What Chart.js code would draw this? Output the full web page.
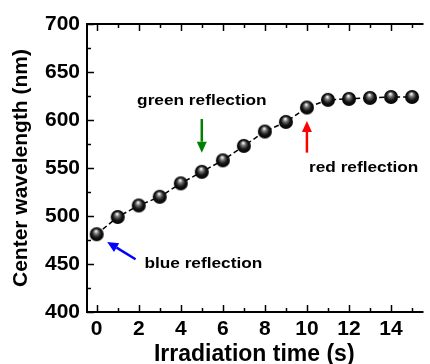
<!DOCTYPE html>
<html>
<head>
<meta charset="utf-8">
<script src="https://cdn.jsdelivr.net/npm/chart.js@4.4.0/dist/chart.umd.min.js"></script>
<style>
  html, body { margin: 0; padding: 0; background: #fff; }
  #wrap { width: 430px; height: 364px; }
</style>
</head>
<body>
<div id="wrap"><canvas id="chart"></canvas></div>
<script>
// data
const timeSec = [0, 1, 2, 3, 4, 5, 6, 7, 8, 9, 10, 11, 12, 13, 14, 15];
const wavelengthNm = [481, 499, 511, 520, 534, 546, 558, 573, 588, 598, 613, 621, 622, 623, 624, 624];
const xTickValues = [0, 2, 4, 6, 8, 10, 12, 14];
const yTickValues = [400, 450, 500, 550, 600, 650, 700];

// annotations in data coordinates: text, and arrows [tailX, tailY, tipX, tipY]
const noteTexts = ['green reflection', 'red reflection', 'blue reflection'];
const noteColors = ['#008000', '#ff0000', '#0000ff'];
const noteTextPos = [[5.0, 620, 'center'], [10.1, 550, 'left'], [2.27, 450, 'left']];
const noteArrows = [[5, 601, 5, 566], [10, 566, 10, 599], [1.85, 455, 0.5, 473]];

const FONT = 'Liberation Sans, Arial, sans-serif';

// shiny black ball used as point marker
function makeBall(r) {
  const c = document.createElement('canvas');
  c.width = c.height = r * 2 + 2;
  const g = c.getContext('2d');
  const cx = r + 1, cy = r + 1;
  const grad = g.createRadialGradient(cx - r * 0.1, cy - r * 0.45, 0.5, cx, cy, r);
  grad.addColorStop(0, '#f0f0f0');
  grad.addColorStop(0.28, '#707070');
  grad.addColorStop(0.62, '#161616');
  grad.addColorStop(1, '#000');
  g.fillStyle = grad;
  g.beginPath();
  g.arc(cx, cy, r, 0, Math.PI * 2);
  g.fill();
  return c;
}
const ball = makeBall(7);

// inward ticks, frame lines and the coloured notes
const framePlugin = {
  id: 'frame',
  afterDatasetsDraw(chart) {
    const ctx = chart.ctx;
    const a = chart.chartArea;
    const xs = chart.scales.x, ys = chart.scales.y;
    ctx.save();
    ctx.strokeStyle = '#000';
    ctx.lineWidth = 2;
    ctx.beginPath();
    ctx.moveTo(a.left, a.bottom); ctx.lineTo(a.left, a.top); ctx.lineTo(a.right + 2, a.top);
    ctx.moveTo(a.left - 1, a.bottom); ctx.lineTo(a.right + 2, a.bottom);
    ctx.stroke();

    ctx.lineWidth = 1.5;
    ctx.beginPath();
    for (let v = 0; v <= 15; v++) {
      const px = Math.round(xs.getPixelForValue(v)) + 0.5;
      const len = v % 2 === 0 ? 7 : 4;
      ctx.moveTo(px, a.bottom); ctx.lineTo(px, a.bottom - len);
      ctx.moveTo(px, a.top); ctx.lineTo(px, a.top + len);
    }
    for (let v = 400; v <= 700; v += 25) {
      const py = Math.round(ys.getPixelForValue(v)) + 0.5;
      const len = v % 50 === 0 ? 7 : 4;
      ctx.moveTo(a.left, py); ctx.lineTo(a.left + len, py);
    }
    ctx.stroke();

    // note text is a bit wide in the original, so stretch it sideways
    const sx = 1.15;
    ctx.font = 'bold 15px ' + FONT;
    ctx.textBaseline = 'middle';
    ctx.fillStyle = '#000';
    noteTexts.forEach((t, i) => {
      const p = noteTextPos[i];
      const px = xs.getPixelForValue(p[0]), py = ys.getPixelForValue(p[1]);
      ctx.save();
      ctx.translate(px, py);
      ctx.scale(sx, 1);
      ctx.textAlign = p[2];
      ctx.fillText(t, 0, 0);
      ctx.restore();
    });

    noteArrows.forEach((ar, i) => {
      const x1 = xs.getPixelForValue(ar[0]), y1 = ys.getPixelForValue(ar[1]);
      const x2 = xs.getPixelForValue(ar[2]), y2 = ys.getPixelForValue(ar[3]);
      const ang = Math.atan2(y2 - y1, x2 - x1);
      const hl = 11, hw = 5;
      const bx = x2 - hl * Math.cos(ang), by = y2 - hl * Math.sin(ang);
      ctx.strokeStyle = noteColors[i];
      ctx.fillStyle = noteColors[i];
      ctx.lineWidth = 2.5;
      ctx.beginPath();
      ctx.moveTo(x1, y1); ctx.lineTo(bx, by);
      ctx.stroke();
      ctx.beginPath();
      ctx.moveTo(x2, y2);
      ctx.lineTo(bx + hw * Math.sin(ang), by - hw * Math.cos(ang));
      ctx.lineTo(bx - hw * Math.sin(ang), by + hw * Math.cos(ang));
      ctx.closePath();
      ctx.fill();
    });
    ctx.restore();
  }
};

new Chart(document.getElementById('chart'), {
  type: 'line',
  data: {
    labels: timeSec,
    datasets: [{
      data: timeSec.map((t, i) => ({ x: t, y: wavelengthNm[i] })),
      borderColor: '#000',
      borderWidth: 1.5,
      borderDash: [5, 3],
      pointStyle: ball,
      pointRadius: 7,
      tension: 0,
      clip: false
    }]
  },
  options: {
    responsive: true,
    maintainAspectRatio: false,
    animation: false,
    events: [],
    layout: { padding: { top: 24, right: 0, left: 0, bottom: 0 } },
    plugins: { legend: { display: false }, tooltip: { enabled: false } },
    scales: {
      x: {
        type: 'linear',
        min: -0.46,
        max: 15.45,
        afterBuildTicks: s => { s.ticks = xTickValues.map(v => ({ value: v })); },
        afterFit: s => { s.height = 52; },
        grid: { display: false, drawTicks: false },
        border: { display: false },
        ticks: { color: '#000', padding: 5, font: { family: FONT, size: 21, weight: 'bold' } },
        title: {
          display: true, text: 'Irradiation time (s)', color: '#000',
          padding: { top: 0, bottom: 0 },
          font: { family: FONT, size: 23, weight: 'bold', lineHeight: 0.8 }
        }
      },
      y: {
        min: 400,
        max: 700,
        afterBuildTicks: s => { s.ticks = yTickValues.map(v => ({ value: v })); },
        afterFit: s => { s.width = 87; },
        grid: { display: false, drawTicks: false },
        border: { display: false },
        ticks: { color: '#000', padding: 7, font: { family: FONT, size: 21, weight: 'bold' } },
        title: {
          display: true, text: 'Center wavelength (nm)', color: '#000',
          padding: { top: 11, bottom: 0 },
          font: { family: FONT, size: 21, weight: 'bold', lineHeight: 1 }
        }
      }
    }
  },
  plugins: [framePlugin]
});
</script>
</body>
</html>
